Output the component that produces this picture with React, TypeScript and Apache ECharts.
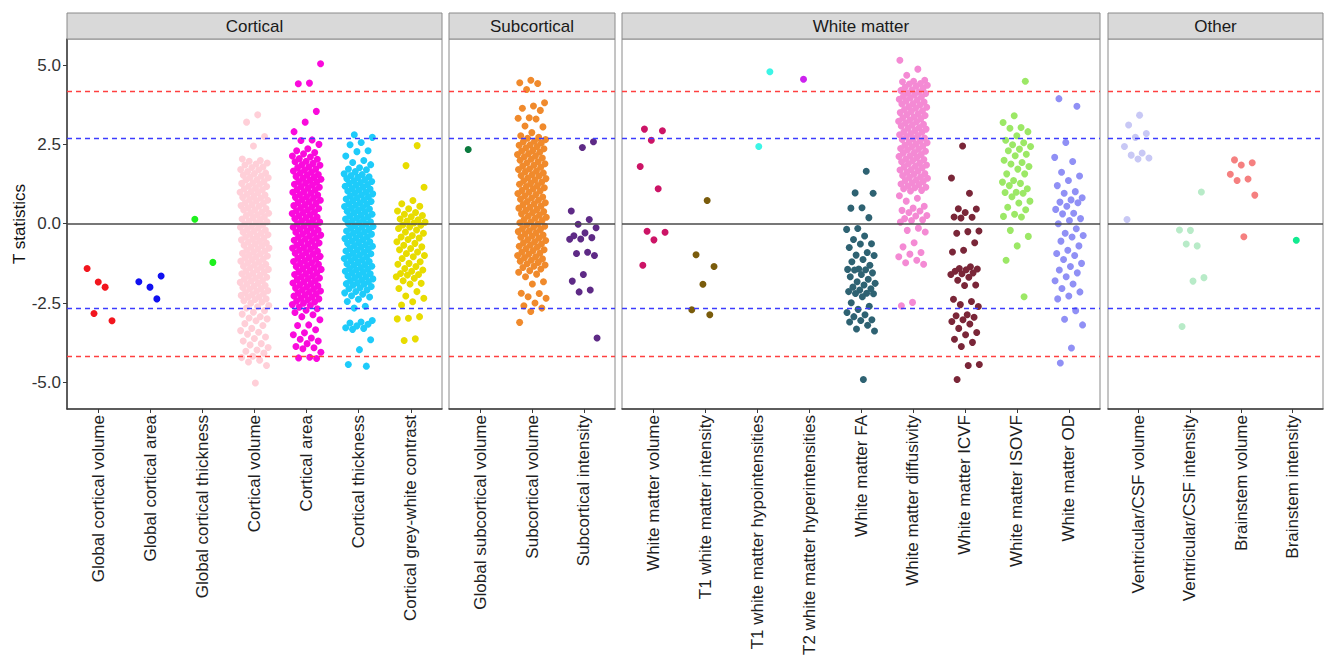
import React, { useEffect, useRef } from "react";
import * as echarts from "echarts";

// ---------- panels & categories ----------
const panelNames = ["Cortical", "Subcortical", "White matter", "Other"];
const corticalCats = ["Global cortical volume", "Global cortical area", "Global cortical thickness", "Cortical volume", "Cortical area", "Cortical thickness", "Cortical grey-white contrast"];
const subcorticalCats = ["Global subcortical volume", "Subcortical volume", "Subcortical intensity"];
const whiteMatterCats = ["White matter volume", "T1 white matter intensity", "T1 white matter hypointensities", "T2 white matter hyperintensities", "White matter FA", "White matter diffusivity", "White matter ICVF", "White matter ISOVF", "White matter OD"];
const otherCats = ["Ventricular/CSF volume", "Ventricular/CSF intensity", "Brainstem volume", "Brainstem intensity"];
const yTicks = [-5, -2.5, 0, 2.5, 5];
const thresholdBonf = 4.17;
const thresholdFdr = 2.68;

// ---------- T statistics ----------
const globalCorticalVolume = [-1.84, -1.41, -2.0, -2.83, -3.06];
const globalCorticalArea = [-1.65, -2.0, -1.83, -2.37];
const globalCorticalThickness = [0.14, -1.22];
const corticalVolume = [3.43, 3.2, 2.75, 2.45, 2.04, 1.99, 1.97, 1.91, 1.88, 1.85, 1.79, 1.77, 1.71, 1.7, 1.64, 1.6, 1.58, 1.53, 1.5, 1.46, 1.45, 1.39, 1.38, 1.33, 1.29, 1.27, 1.24, 1.18, 1.17, 1.12, 1.1, 1.07, 1.01, 0.99, 0.98, 0.93, 0.9, 0.86, 0.83, 0.81, 0.76, 0.74, 0.72, 0.66, 0.64, 0.6, 0.57, 0.55, 0.5, 0.48, 0.44, 0.43, 0.37, 0.34, 0.33, 0.28, 0.26, 0.21, 0.19, 0.15, 0.13, 0.08, 0.06, 0.03, -0.02, -0.03, -0.08, -0.11, -0.13, -0.18, -0.2, -0.24, -0.27, -0.3, -0.33, -0.35, -0.4, -0.41, -0.46, -0.49, -0.51, -0.55, -0.58, -0.61, -0.63, -0.68, -0.69, -0.74, -0.77, -0.79, -0.84, -0.86, -0.89, -0.93, -0.95, -0.99, -1.02, -1.05, -1.07, -1.12, -1.13, -1.18, -1.21, -1.23, -1.28, -1.29, -1.34, -1.37, -1.39, -1.44, -1.45, -1.5, -1.53, -1.56, -1.58, -1.63, -1.64, -1.69, -1.72, -1.74, -1.79, -1.8, -1.85, -1.88, -1.9, -1.95, -1.97, -2.01, -2.04, -2.06, -2.11, -2.13, -2.17, -2.2, -2.23, -2.26, -2.3, -2.32, -2.37, -2.39, -2.43, -2.47, -2.51, -2.58, -2.62, -2.66, -2.74, -2.79, -2.85, -2.93, -2.97, -3.0, -3.06, -3.15, -3.21, -3.3, -3.37, -3.42, -3.48, -3.57, -3.62, -3.7, -3.78, -3.82, -3.9, -3.98, -4.02, -4.08, -4.18, -4.22, -4.3, -4.36, -4.47, -5.02];
const corticalArea = [5.04, 4.43, 4.41, 3.54, 3.2, 2.9, 2.64, 2.62, 2.5, 2.36, 2.3, 2.24, 2.2, 2.13, 2.1, 2.05, 2.03, 1.97, 1.95, 1.9, 1.86, 1.84, 1.79, 1.77, 1.72, 1.69, 1.66, 1.62, 1.6, 1.55, 1.53, 1.49, 1.46, 1.43, 1.4, 1.37, 1.33, 1.31, 1.28, 1.24, 1.22, 1.17, 1.15, 1.12, 1.08, 1.06, 1.01, 0.99, 0.96, 0.92, 0.9, 0.85, 0.83, 0.8, 0.76, 0.74, 0.69, 0.67, 0.64, 0.6, 0.57, 0.53, 0.51, 0.48, 0.44, 0.41, 0.37, 0.35, 0.32, 0.28, 0.25, 0.21, 0.19, 0.16, 0.12, 0.09, 0.05, 0.03, 0.0, -0.04, -0.07, -0.11, -0.13, -0.16, -0.2, -0.23, -0.27, -0.29, -0.32, -0.36, -0.39, -0.43, -0.45, -0.48, -0.52, -0.55, -0.59, -0.61, -0.64, -0.68, -0.71, -0.75, -0.77, -0.8, -0.84, -0.87, -0.91, -0.93, -0.96, -1.0, -1.03, -1.07, -1.09, -1.12, -1.16, -1.19, -1.23, -1.25, -1.28, -1.32, -1.35, -1.39, -1.41, -1.44, -1.48, -1.51, -1.55, -1.57, -1.6, -1.64, -1.67, -1.71, -1.73, -1.76, -1.8, -1.83, -1.87, -1.89, -1.92, -1.96, -1.99, -2.03, -2.05, -2.08, -2.12, -2.15, -2.19, -2.21, -2.24, -2.28, -2.31, -2.35, -2.37, -2.4, -2.44, -2.47, -2.51, -2.55, -2.58, -2.63, -2.68, -2.73, -2.8, -2.87, -2.93, -3.03, -3.19, -3.21, -3.34, -3.44, -3.5, -3.6, -3.64, -3.7, -3.78, -3.87, -3.91, -3.94, -4.05, -4.21, -4.23, -4.25];
const corticalThickness = [2.8, 2.72, 2.56, 2.49, 2.3, 2.27, 2.13, 1.99, 1.93, 1.86, 1.76, 1.72, 1.7, 1.64, 1.57, 1.55, 1.52, 1.48, 1.46, 1.42, 1.39, 1.35, 1.33, 1.3, 1.27, 1.23, 1.21, 1.18, 1.15, 1.11, 1.09, 1.06, 1.03, 0.99, 0.97, 0.94, 0.91, 0.87, 0.85, 0.82, 0.78, 0.75, 0.73, 0.7, 0.66, 0.63, 0.61, 0.58, 0.54, 0.51, 0.49, 0.46, 0.42, 0.39, 0.37, 0.34, 0.3, 0.27, 0.25, 0.22, 0.18, 0.15, 0.13, 0.1, 0.06, 0.03, 0.01, -0.02, -0.06, -0.09, -0.11, -0.14, -0.18, -0.21, -0.23, -0.26, -0.3, -0.33, -0.35, -0.38, -0.42, -0.45, -0.47, -0.5, -0.54, -0.57, -0.59, -0.62, -0.66, -0.69, -0.71, -0.74, -0.78, -0.81, -0.83, -0.86, -0.9, -0.93, -0.95, -0.98, -1.02, -1.05, -1.07, -1.1, -1.14, -1.17, -1.19, -1.22, -1.26, -1.29, -1.31, -1.34, -1.38, -1.41, -1.43, -1.46, -1.5, -1.53, -1.55, -1.58, -1.62, -1.65, -1.67, -1.7, -1.74, -1.77, -1.79, -1.82, -1.86, -1.89, -1.91, -1.94, -1.98, -2.02, -2.05, -2.09, -2.14, -2.18, -2.22, -2.27, -2.31, -2.38, -2.45, -2.6, -2.66, -3.05, -3.1, -3.13, -3.17, -3.22, -3.28, -3.3, -3.33, -3.66, -3.97, -4.44, -4.49];
const corticalGreyWhiteContrast = [2.46, 1.83, 1.15, 0.73, 0.63, 0.55, 0.47, 0.4, 0.35, 0.3, 0.26, 0.22, 0.15, 0.12, 0.08, 0.05, 0.02, -0.04, -0.05, -0.1, -0.15, -0.2, -0.26, -0.3, -0.37, -0.42, -0.45, -0.5, -0.57, -0.62, -0.68, -0.73, -0.78, -0.82, -0.89, -0.94, -1.0, -1.04, -1.1, -1.2, -1.25, -1.28, -1.35, -1.41, -1.46, -1.5, -1.57, -1.6, -1.62, -1.67, -1.72, -1.8, -1.88, -1.9, -2.04, -2.14, -2.28, -2.35, -2.46, -2.56, -2.93, -2.98, -3.0, -3.63, -3.68];
const globalSubcorticalVolume = [2.34];
const subcorticalVolume = [4.52, 4.44, 4.42, 4.23, 3.81, 3.71, 3.64, 3.57, 3.34, 3.32, 3.3, 3.08, 3.05, 2.87, 2.77, 2.72, 2.69, 2.65, 2.6, 2.58, 2.54, 2.49, 2.47, 2.43, 2.39, 2.36, 2.31, 2.29, 2.25, 2.21, 2.18, 2.13, 2.11, 2.07, 2.03, 2.0, 1.95, 1.92, 1.89, 1.84, 1.82, 1.78, 1.73, 1.71, 1.66, 1.64, 1.6, 1.55, 1.52, 1.5, 1.45, 1.42, 1.38, 1.35, 1.31, 1.27, 1.24, 1.2, 1.17, 1.13, 1.1, 1.05, 1.03, 0.99, 0.95, 0.92, 0.88, 0.84, 0.81, 0.77, 0.74, 0.7, 0.66, 0.63, 0.6, 0.56, 0.52, 0.49, 0.45, 0.42, 0.38, 0.35, 0.31, 0.27, 0.24, 0.2, 0.17, 0.13, 0.1, 0.06, 0.03, -0.01, -0.04, -0.08, -0.11, -0.15, -0.18, -0.22, -0.25, -0.29, -0.32, -0.36, -0.39, -0.43, -0.46, -0.5, -0.53, -0.57, -0.6, -0.64, -0.67, -0.71, -0.74, -0.78, -0.82, -0.85, -0.89, -0.93, -0.96, -1.0, -1.04, -1.07, -1.11, -1.15, -1.18, -1.22, -1.26, -1.3, -1.34, -1.38, -1.43, -1.48, -1.53, -1.59, -1.67, -1.83, -1.9, -2.19, -2.2, -2.3, -2.35, -2.5, -2.59, -2.66, -2.77, -3.11];
const subcorticalIntensity = [2.58, 2.4, 0.4, 0.13, -0.02, -0.13, -0.29, -0.38, -0.44, -0.48, -0.49, -0.9, -0.94, -1.0, -1.6, -1.81, -2.09, -2.15, -3.6];
const whiteMatterVolume = [2.98, 2.93, 2.63, 1.8, 1.1, -0.24, -0.27, -0.51, -1.31];
const t1WhiteMatterIntensity = [0.73, -0.98, -1.35, -1.91, -2.71, -2.87];
const t1Hypointensities = [4.79, 2.43];
const t2Hyperintensities = [4.55];
const whiteMatterFA = [1.65, 0.97, 0.96, 0.5, 0.49, 0.19, -0.15, -0.18, -0.39, -0.5, -0.63, -0.64, -0.75, -0.91, -0.99, -1.0, -1.13, -1.2, -1.31, -1.43, -1.44, -1.45, -1.46, -1.55, -1.6, -1.67, -1.75, -1.83, -1.88, -1.93, -2.0, -2.05, -2.09, -2.14, -2.19, -2.2, -2.21, -2.3, -2.49, -2.6, -2.7, -2.8, -2.87, -2.93, -3.03, -3.05, -3.1, -3.2, -3.32, -3.38, -4.91];
const whiteMatterDiffusivity = [5.15, 4.87, 4.68, 4.52, 4.49, 4.47, 4.42, 4.4, 4.36, 4.33, 4.3, 4.27, 4.22, 4.2, 4.16, 4.12, 4.1, 4.07, 4.02, 4.0, 3.97, 3.92, 3.9, 3.87, 3.83, 3.79, 3.77, 3.74, 3.69, 3.67, 3.64, 3.6, 3.56, 3.54, 3.5, 3.46, 3.44, 3.41, 3.36, 3.34, 3.31, 3.27, 3.23, 3.21, 3.17, 3.13, 3.11, 3.08, 3.03, 3.01, 2.98, 2.94, 2.9, 2.88, 2.84, 2.8, 2.78, 2.75, 2.7, 2.68, 2.65, 2.61, 2.57, 2.55, 2.51, 2.47, 2.45, 2.42, 2.37, 2.35, 2.32, 2.28, 2.24, 2.22, 2.18, 2.14, 2.12, 2.09, 2.04, 2.02, 1.99, 1.95, 1.91, 1.89, 1.85, 1.81, 1.79, 1.76, 1.71, 1.69, 1.66, 1.62, 1.58, 1.56, 1.52, 1.48, 1.46, 1.43, 1.38, 1.36, 1.33, 1.29, 1.25, 1.23, 1.19, 1.15, 1.13, 1.1, 1.05, 1.03, 0.88, 0.8, 0.71, 0.55, 0.49, 0.42, 0.4, 0.35, 0.26, 0.24, 0.16, 0.12, 0.1, 0.05, -0.14, -0.21, -0.26, -0.6, -0.73, -0.91, -0.96, -1.04, -1.15, -1.23, -1.28, -2.48, -2.59];
const whiteMatterICVF = [2.45, 1.44, 0.96, 0.47, 0.46, 0.35, 0.21, 0.2, 0.18, -0.23, -0.25, -0.3, -0.6, -0.84, -0.89, -1.36, -1.41, -1.43, -1.45, -1.5, -1.55, -1.58, -1.6, -1.69, -1.78, -1.93, -1.95, -2.38, -2.45, -2.55, -2.61, -2.87, -2.9, -2.95, -3.03, -3.08, -3.16, -3.3, -3.43, -3.5, -3.64, -3.74, -3.87, -4.44, -4.47, -4.91];
const whiteMatterISOVF = [4.49, 3.4, 3.19, 3.03, 3.01, 2.9, 2.77, 2.63, 2.55, 2.49, 2.43, 2.35, 2.3, 2.19, 2.14, 2.0, 1.93, 1.88, 1.8, 1.72, 1.57, 1.57, 1.36, 1.31, 1.27, 1.2, 1.1, 0.99, 0.98, 0.96, 0.85, 0.71, 0.65, 0.52, 0.44, 0.3, 0.23, 0.21, -0.21, -0.4, -0.7, -1.15, -2.3];
const whiteMatterOD = [3.94, 3.7, 2.56, 2.09, 1.96, 1.62, 1.5, 1.36, 1.2, 1.01, 0.96, 0.82, 0.75, 0.68, 0.66, 0.55, 0.45, 0.33, 0.31, 0.16, 0.1, 0.0, -0.16, -0.3, -0.37, -0.42, -0.55, -0.7, -0.84, -0.94, -1.0, -1.13, -1.25, -1.35, -1.46, -1.55, -1.67, -1.8, -1.9, -2.04, -2.15, -2.28, -2.37, -2.74, -3.01, -3.19, -3.92, -4.39];
const ventricularCsfVolume = [3.42, 3.11, 2.84, 2.72, 2.43, 2.23, 2.16, 2.07, 2.04, 0.13];
const ventricularCsfIntensity = [1.0, -0.21, -0.2, -0.7, -0.64, -1.7, -1.81, -3.24];
const brainstemVolume = [2.01, 1.92, 1.85, 1.56, 1.41, 1.36, 0.9, -0.41];
const brainstemIntensity = [-0.52];

// ---------- series definitions (panel, category position, colour) ----------
const seriesDefs = [
  { panel: 0, cat: 1, values: globalCorticalVolume, color: "#F2161E" },
  { panel: 0, cat: 2, values: globalCorticalArea, color: "#1010F0" },
  { panel: 0, cat: 3, values: globalCorticalThickness, color: "#1EF01E" },
  { panel: 0, cat: 4, values: corticalVolume, color: "#FFCFD8" },
  { panel: 0, cat: 5, values: corticalArea, color: "#FA0ADC" },
  { panel: 0, cat: 6, values: corticalThickness, color: "#1ECBFA" },
  { panel: 0, cat: 7, values: corticalGreyWhiteContrast, color: "#E8DC00" },
  { panel: 1, cat: 1, values: globalSubcorticalVolume, color: "#0B7A3E" },
  { panel: 1, cat: 2, values: subcorticalVolume, color: "#F08A2C" },
  { panel: 1, cat: 3, values: subcorticalIntensity, color: "#5E2A86" },
  { panel: 2, cat: 1, values: whiteMatterVolume, color: "#CC1466" },
  { panel: 2, cat: 2, values: t1WhiteMatterIntensity, color: "#7A5C0C" },
  { panel: 2, cat: 3, values: t1Hypointensities, color: "#3CF5E6" },
  { panel: 2, cat: 4, values: t2Hyperintensities, color: "#CC22EE" },
  { panel: 2, cat: 5, values: whiteMatterFA, color: "#2E6272" },
  { panel: 2, cat: 6, values: whiteMatterDiffusivity, color: "#F48AD4" },
  { panel: 2, cat: 7, values: whiteMatterICVF, color: "#7A2638" },
  { panel: 2, cat: 8, values: whiteMatterISOVF, color: "#9CE866" },
  { panel: 2, cat: 9, values: whiteMatterOD, color: "#9090F5" },
  { panel: 3, cat: 1, values: ventricularCsfVolume, color: "#C8C8F5" },
  { panel: 3, cat: 2, values: ventricularCsfIntensity, color: "#B8EBC8" },
  { panel: 3, cat: 3, values: brainstemVolume, color: "#F58080" },
  { panel: 3, cat: 4, values: brainstemIntensity, color: "#12EA90" },
];

const panelCats = [corticalCats, subcorticalCats, whiteMatterCats, otherCats];
const panelBoxes = [
  { left: 67, width: 375 },
  { left: 449, width: 166 },
  { left: 622, width: 478 },
  { left: 1108, width: 215 },
];
const GRID_TOP = 39;
const GRID_H = 370;
const STRIP_TOP = 13;
const FONT = "'Liberation Sans', Arial, Helvetica, sans-serif";
const FONT_SIZE = 17;
const JITTER = 0.28;

function jitterOffset(i: number, phase: number) {
  const u = (phase + i * 0.6180339887) % 1;
  return (u - 0.5) * 2 * JITTER;
}

export default function App() {
  const ref = useRef<HTMLDivElement>(null);
  useEffect(() => {
    if (!ref.current) return;
    const chart = echarts.init(ref.current, undefined, { renderer: "svg" });

    const grids = panelBoxes.map((b) => ({
      left: b.left,
      top: GRID_TOP,
      width: b.width,
      height: GRID_H,
      containLabel: false,
      outerBoundsMode: "none",
      show: true,
      backgroundColor: "#ffffff",
      borderColor: "#8a8a8a",
      borderWidth: 1,
    }));

    const xAxes = panelCats.map((cats, p) => {
      const positions = cats.map((_, i) => i + 1);
      return {
        type: "value",
        gridIndex: p,
        min: 0.4,
        max: cats.length + 0.6,
        splitLine: { show: false },
        axisLine: { show: true, onZero: false, lineStyle: { color: "#3a3a3a", width: 1.5 } },
        axisTick: { show: true, length: 4, customValues: positions, lineStyle: { color: "#3a3a3a" } },
        axisLabel: {
          show: true,
          customValues: positions,
          rotate: 90,
          margin: 6,
          fontSize: FONT_SIZE,
          fontFamily: FONT,
          color: "#1e1e1e",
          formatter: (v: number) => cats[Math.round(v) - 1] ?? "",
        },
      };
    });

    const yAxes = panelCats.map((_, p) => ({
      type: "value",
      gridIndex: p,
      min: -5.84,
      max: 5.82,
      splitLine: { show: false },
      axisLine: { show: p === 0, onZero: false, lineStyle: { color: "#3a3a3a", width: 1.5 } },
      axisTick: { show: p === 0, length: 4, customValues: yTicks, lineStyle: { color: "#3a3a3a" } },
      axisLabel: {
        show: p === 0,
        customValues: yTicks,
        margin: 6,
        fontSize: FONT_SIZE,
        fontFamily: FONT,
        color: "#333333",
        formatter: (v: number) => v.toFixed(1),
      },
    }));

    const series: any[] = seriesDefs.map((s, k) => ({
      type: "scatter",
      xAxisIndex: s.panel,
      yAxisIndex: s.panel,
      symbol: "circle",
      symbolSize: 7,
      z: 2,
      itemStyle: { color: s.color, opacity: 1 },
      data: s.values.map((v, i) => [s.cat + jitterOffset(i, (0.5 + k * 0.37) % 1), v]),
    }));

    const dashed = (color: string) => ({ color, type: [5, 4], width: 1.3 });
    panelCats.forEach((_, p) => {
      series.push({
        type: "scatter",
        xAxisIndex: p,
        yAxisIndex: p,
        data: [],
        z: 5,
        markLine: {
          silent: true,
          symbol: ["none", "none"],
          label: { show: false },
          animation: false,
          data: [
            { yAxis: thresholdBonf, lineStyle: dashed("#FF4040") },
            { yAxis: -thresholdBonf, lineStyle: dashed("#FF4040") },
            { yAxis: thresholdFdr, lineStyle: dashed("#3C3CFF") },
            { yAxis: -thresholdFdr, lineStyle: dashed("#3C3CFF") },
            { yAxis: 0, lineStyle: { color: "#4a4a4a", type: "solid", width: 1.6 } },
          ],
        },
      });
    });

    const graphic: any[] = [];
    panelBoxes.forEach((b, p) => {
      graphic.push({
        type: "rect",
        shape: { x: b.left, y: STRIP_TOP, width: b.width, height: GRID_TOP - STRIP_TOP },
        style: { fill: "#D9D9D9", stroke: "#8a8a8a", lineWidth: 1 },
        z: 1,
      });
      graphic.push({
        type: "text",
        x: b.left + b.width / 2,
        y: STRIP_TOP + (GRID_TOP - STRIP_TOP) / 2 + 0.5,
        style: {
          text: panelNames[p],
          fontSize: FONT_SIZE,
          fontFamily: FONT,
          fill: "#1a1a1a",
          align: "center",
          verticalAlign: "middle",
        },
        z: 2,
      });
    });
    graphic.push({
      type: "text",
      x: 19,
      y: GRID_TOP + GRID_H / 2,
      rotation: Math.PI / 2,
      style: {
        text: "T statistics",
        fontSize: FONT_SIZE,
        fontFamily: FONT,
        fill: "#111111",
        align: "center",
        verticalAlign: "middle",
      },
    });

    chart.setOption({
      animation: false,
      textStyle: { fontFamily: FONT },
      grid: grids,
      xAxis: xAxes,
      yAxis: yAxes,
      series,
      graphic,
    });
    return () => chart.dispose();
  }, []);

  return (
    <div
      ref={ref}
      style={{ position: "absolute", left: 0, top: 0, width: 1325, height: 662, background: "#ffffff" }}
    />
  );
}
